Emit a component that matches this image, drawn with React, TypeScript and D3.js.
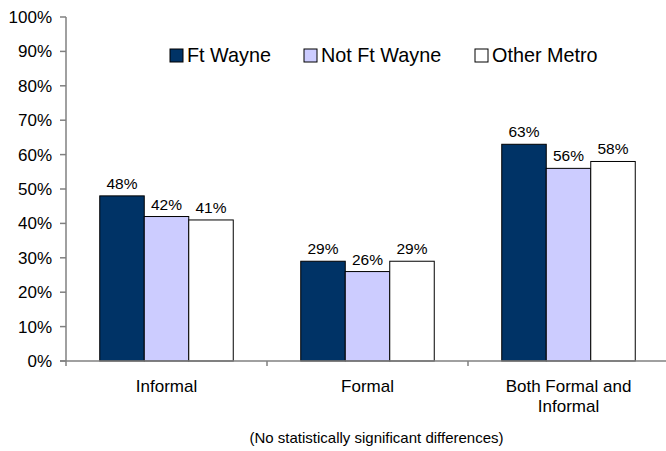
import React from "react";
import * as d3 from "d3";

const categories = ["Informal", "Formal", "Both Formal and Informal"];
const seriesNames = ["Ft Wayne", "Not Ft Wayne", "Other Metro"];
const ftWayne = [48, 29, 63];
const notFtWayne = [42, 26, 56];
const otherMetro = [41, 29, 58];
const yTicks = [0, 10, 20, 30, 40, 50, 60, 70, 80, 90, 100];
const footnote = "(No statistically significant differences)";

const seriesValues = [ftWayne, notFtWayne, otherMetro];
const colors = ["#003366", "#CCCCFF", "#FFFFFF"];

const W = 666;
const H = 451;
const FONT = "'Liberation Sans', Arial, Helvetica, sans-serif";

export default function App() {
  const left = 66;
  const right = 669;
  const top = 17;
  const bottom = 361;

  const y = d3.scaleLinear().domain([0, 100]).range([bottom, top]);
  const x0 = d3.scaleBand<string>().domain(categories).range([left, right]).paddingInner(0).paddingOuter(0);
  const barW = 44.5;
  const groupW = barW * 3;

  const wrapLabel = (s: string) =>
    s === "Both Formal and Informal" ? ["Both Formal and", "Informal"] : [s];

  return (
    <svg
      width={W}
      height={H}
      style={{ position: "absolute", left: 0, top: 0, background: "#fff" }}
      fontFamily={FONT}
    >
      {/* bars */}
      {categories.map((c, ci) => {
        const cx = x0(c)! + x0.bandwidth() / 2;
        const gx = cx - groupW / 2;
        return (
          <g key={c}>
            {seriesValues.map((vals, si) => {
              const v = vals[ci];
              const bx = gx + si * barW;
              return (
                <g key={si}>
                  <rect
                    x={bx}
                    y={y(v)}
                    width={barW}
                    height={bottom - y(v)}
                    fill={colors[si]}
                    stroke="#000"
                    strokeWidth={1}
                  />
                  <text
                    x={bx + barW / 2}
                    y={y(v) - 7}
                    textAnchor="middle"
                    fontSize={15.5}
                    fill="#000"
                  >
                    {v}%
                  </text>
                </g>
              );
            })}
          </g>
        );
      })}

      {/* y axis */}
      <line x1={left} x2={left} y1={top} y2={bottom + 5} stroke="#808080" strokeWidth={1.5} />
      {yTicks.map((t) => (
        <g key={t}>
          <line x1={left - 6} x2={left} y1={y(t)} y2={y(t)} stroke="#808080" strokeWidth={1.5} />
          <text x={52} y={y(t) + 6} textAnchor="end" fontSize={17} fill="#000">
            {t}%
          </text>
        </g>
      ))}

      {/* x axis */}
      <line x1={left - 6} x2={W} y1={bottom} y2={bottom} stroke="#808080" strokeWidth={1.5} />
      {categories.map((c, ci) => (
        <line
          key={"tk" + ci}
          x1={x0(c)! + x0.bandwidth()}
          x2={x0(c)! + x0.bandwidth()}
          y1={bottom}
          y2={bottom + 5}
          stroke="#808080"
          strokeWidth={1.5}
        />
      ))}
      {categories.map((c) => {
        const cx = x0(c)! + x0.bandwidth() / 2;
        return wrapLabel(c).map((line, li) => (
          <text
            key={c + li}
            x={cx}
            y={392 + li * 20}
            textAnchor="middle"
            fontSize={17}
            fill="#000"
          >
            {line}
          </text>
        ));
      })}

      {/* legend */}
      {[170, 304, 475].map((lx, i) => (
        <g key={"lg" + i}>
          <rect x={lx} y={49} width={13} height={13} fill={colors[i]} stroke="#000" strokeWidth={1} />
          <text x={lx + 17} y={62} fontSize={19.8} fill="#000">
            {seriesNames[i]}
          </text>
        </g>
      ))}

      {/* footnote */}
      <text x={376.5} y={443} textAnchor="middle" fontSize={15} fill="#000">
        {footnote}
      </text>
    </svg>
  );
}
